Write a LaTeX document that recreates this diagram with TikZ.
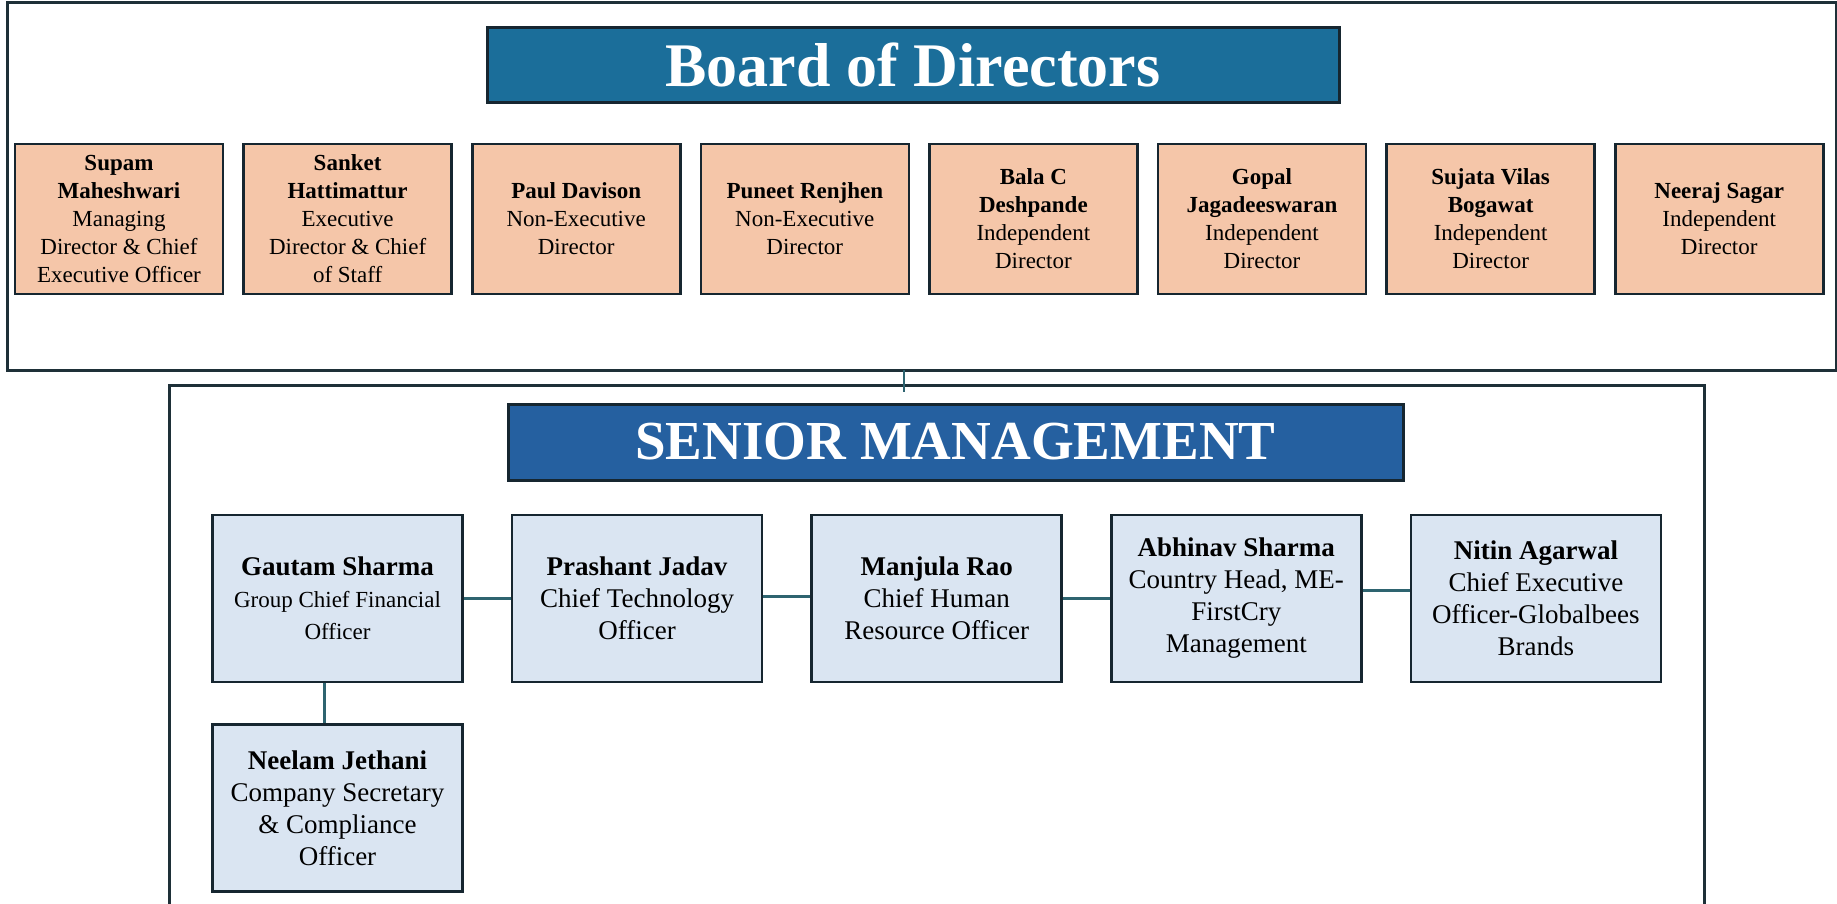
\documentclass[tikz,border=0pt]{standalone}
\usepackage{fontspec}
\setmainfont{Liberation Serif}
\usepackage{tikz}
\usetikzlibrary{positioning}
\definecolor{peach}{HTML}{F5C6A9}
\definecolor{paleblue}{HTML}{DAE5F2}
\definecolor{bdblue}{HTML}{1B6E9A}
\definecolor{smblue}{HTML}{2560A0}
\definecolor{edgeclr}{HTML}{162630}
\definecolor{frameclr}{HTML}{1E3038}
\definecolor{linkclr}{HTML}{2E6470}
\newcommand{\subtxt}[1]{{\fontsize{11.5}{15}\selectfont #1}}
\tikzset{
  frm/.style ={rectangle, draw=frameclr, line width=1.5pt},
  ttl/.style ={rectangle, draw=edgeclr, line width=1.5pt, text=white, inner sep=0pt},
  dir/.style ={rectangle, draw=edgeclr, line width=1.3pt, fill=peach, align=center, inner sep=2pt,
               minimum width=104pt, minimum height=75pt, font=\fontsize{11.5}{14}\selectfont},
  mgr/.style ={rectangle, draw=edgeclr, line width=1.3pt, fill=paleblue, align=center, inner sep=2pt,
               minimum width=125pt, minimum height=83.5pt, font=\fontsize{13.5}{16}\selectfont},
  lnk/.style ={draw=linkclr, line width=1.3pt},
}
\begin{document}
\begin{tikzpicture}[x=0.5pt, y=-0.5pt, node distance=9pt and 9pt]
  \path[use as bounding box, fill=white] (0,0) rectangle (1837,904);
  \node[frm, minimum width=914.5pt, minimum height=183.5pt] (bdframe) at (921.5,186.5) {};
  \node[frm, minimum width=767.5pt, minimum height=270pt] (smframe) at (936.5,655) {};
  \coordinate (jn) at (904,370);
  \node[ttl, fill=bdblue, minimum width=426pt, minimum height=37.5pt,
        font=\fontsize{31}{31}\selectfont\bfseries] (bdtitle) at (913,65) {Board of Directors};
  \node[dir] (supam) at (119,219) {\textbf{Supam}\\\textbf{Maheshwari}\\Managing\\Director \& Chief\\Executive Officer};
  \node[dir, right=of supam] (sanket) {\textbf{Sanket}\\\textbf{Hattimattur}\\Executive\\Director \& Chief\\of Staff};
  \node[dir, right=of sanket] (paul) {\textbf{Paul Davison}\\Non-Executive\\Director};
  \node[dir, right=of paul] (puneet) {\textbf{Puneet Renjhen}\\Non-Executive\\Director};
  \node[dir, right=of puneet] (bala) {\textbf{Bala C}\\\textbf{Deshpande}\\Independent\\Director};
  \node[dir, right=of bala] (gopal) {\textbf{Gopal}\\\textbf{Jagadeeswaran}\\Independent\\Director};
  \node[dir, right=of gopal] (sujata) {\textbf{Sujata Vilas}\\\textbf{Bogawat}\\Independent\\Director};
  \node[dir, right=of sujata] (neeraj) {\textbf{Neeraj Sagar}\\Independent\\Director};
  \node[ttl, fill=smblue, minimum width=447.5pt, minimum height=38pt,
        font=\fontsize{27.5}{28}\selectfont\bfseries] (smtitle) at (955.5,442) {SENIOR MANAGEMENT};
  \node[mgr] (gautam) at (337.5,598.5) {\textbf{Gautam Sharma}\\\subtxt{Group Chief Financial}\\\subtxt{Officer}};
  \node[mgr, right=23.5pt of gautam] (prashant) {\textbf{Prashant Jadav}\\Chief Technology\\Officer};
  \node[mgr, right=23.5pt of prashant] (manjula) {\textbf{Manjula Rao}\\Chief Human\\Resource Officer};
  \node[mgr, right=23.5pt of manjula] (abhinav) {\textbf{Abhinav Sharma}\\Country Head, ME-\\FirstCry\\Management};
  \node[mgr, right=23.5pt of abhinav] (nitin) {\textbf{Nitin Agarwal}\\Chief Executive\\Officer-Globalbees\\Brands};
  \node[mgr, below=20pt of gautam] (neelam) {\textbf{Neelam Jethani}\\Company Secretary\\\& Compliance\\Officer};
  \draw[lnk] (jn) -- ([yshift=-4pt]smframe.north -| jn);
  \draw[lnk] (gautam) -- (prashant);
  \draw[lnk] ([yshift=1pt]prashant.east) -- ([yshift=1pt]manjula.west);
  \draw[lnk] (manjula) -- (abhinav);
  \draw[lnk] ([yshift=4pt]abhinav.east) -- ([yshift=4pt]nitin.west);
  \draw[lnk] ([xshift=-6.5pt]gautam.south) -- ([xshift=-6.5pt]neelam.north);
\end{tikzpicture}
\end{document}
